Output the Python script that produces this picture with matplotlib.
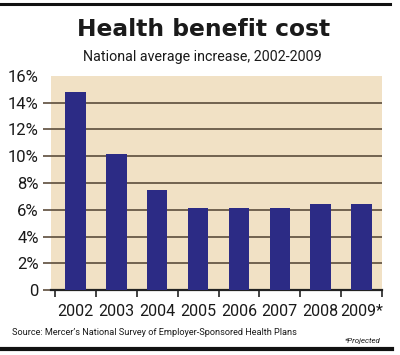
import matplotlib
matplotlib.use('Agg')
import matplotlib.pyplot as plt
from matplotlib.lines import Line2D

# Data
years = ['2002', '2003', '2004', '2005', '2006', '2007', '2008', '2009*']
increase = [14.8, 10.15, 7.5, 6.1, 6.1, 6.1, 6.4, 6.45]
yticks = [0, 2, 4, 6, 8, 10, 12, 14, 16]
ylabels = ['0', '2%', '4%', '6%', '8%', '10%', '12%', '14%', '16%']

bar_colour = '#2c2b85'
tan_colour = '#f1e1c5'
grid_colour = '#5c4d3c'
ink = '#1a1a1a'
font = ['Roboto', 'DejaVu Sans']

fig = plt.figure(figsize=(4, 3.55), dpi=100, facecolor='white')
ax = fig.add_axes([0.1275, 0.183, 0.8275, 0.603])
ax.set_facecolor(tan_colour)

x = range(len(years))
ax.bar(x, increase, width=0.5, color=bar_colour, zorder=3)

ax.set_xlim(-0.6, 7.5)
ax.set_ylim(0, 16)

ax.set_yticks(yticks)
ax.set_yticklabels(ylabels, family=font, fontsize=12, color=ink)
ax.yaxis.set_tick_params(length=8 * 0.72, width=1.2, color=grid_colour, pad=3)
ax.grid(axis='y', color=grid_colour, lw=1.2, zorder=1)
top = ax.yaxis.get_major_ticks()[-1]
top.tick1line.set_visible(False)
top.gridline.set_visible(False)

ax.set_xticks(list(x))
ax.set_xticklabels(years, family=font, fontsize=11.5, color=ink)
ax.set_xticks([i - 0.5 for i in range(len(years) + 1)], minor=True)
ax.xaxis.set_tick_params(which='major', length=0, pad=10)
ax.xaxis.set_tick_params(which='minor', length=7 * 0.72, width=1.2, color='#222222')

for spine in ('top', 'right', 'left'):
    ax.spines[spine].set_visible(False)
ax.spines['bottom'].set_color('#222222')
ax.spines['bottom'].set_linewidth(1.6)

title = fig.text(0.51, 0.918, 'Health benefit cost', ha='center', va='center',
                 fontsize=17, fontweight='bold', family='DejaVu Sans', color=ink)
sub = fig.text(0.505, 0.84, 'National average increase, 2002-2009', ha='center',
               va='center', fontsize=11, family=font, color=ink)
src = fig.text(0.03, 0.062, "Source: Mercer\u2019s National Survey of Employer-Sponsored Health Plans",
               ha='left', va='center', fontsize=7, family=font, color=ink)
proj = fig.text(0.95, 0.04, '*Projected', ha='right', va='center', fontsize=7,
                style='italic', family=font, color=ink)

# shrink or grow the texts to the widths they have in the reference (pixels)
renderer = fig.canvas.get_renderer()
for t, w in ((title, 253), (sub, 239), (src, 283), (proj, 36)):
    t.set_fontsize(t.get_fontsize() * w / t.get_window_extent(renderer).width)

# rules at the top and bottom of the graphic
fig.add_artist(Line2D([0, 0.975], [0.99, 0.99], color='#111111', lw=2.2))
fig.add_artist(Line2D([0, 0.98], [0.018, 0.018], color='#111111', lw=3))

fig.savefig('out.png', dpi=100, facecolor='white')
